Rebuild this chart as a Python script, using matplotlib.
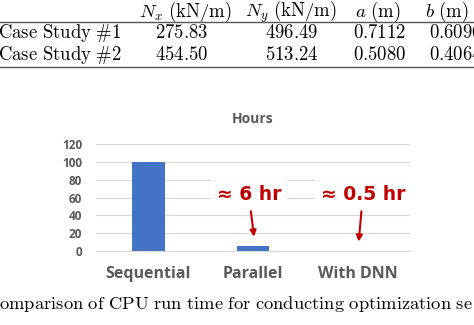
import matplotlib
matplotlib.use("Agg")
import matplotlib.pyplot as plt

plt.rcParams['mathtext.fontset'] = 'cm'

# table cut from the paper above the chart
col_heads = [r"$N_x\ \mathrm{(kN/m)}$", r"$N_y\ \mathrm{(kN/m)}$", r"$a\ \mathrm{(m)}$", r"$b\ \mathrm{(m)}$"]
row_names = ["Case Study #1", "Case Study #2"]
table_vals = [["275.83", "496.49", "0.7112", "0.6096"],
              ["454.50", "513.24", "0.5080", "0.4064"]]

# chart data
categories = ["Sequential", "Parallel", "With DNN"]
hours = [100, 6, 0.5]
notes = [None, "≈ 6 hr", "≈ 0.5 hr"]
yticks = [0, 20, 40, 60, 80, 100, 120]

caption = "Comparison of CPU run time for conducting optimization se"

W, H = 474, 325
fig = plt.figure(figsize=(W / 100, H / 100), dpi=100)


def px(x, y):
    return x / W, 1 - y / H


def roman(s):
    return r"$\mathrm{" + s.replace(" ", r"\ ").replace("#", r"\#") + "}$"


# --- table ---
fs = 13.5
head_x = [185, 291, 378, 447]
val_x = [182, 292, 380, 456]
row_y = [33, 55]
for hx, h in zip(head_x, col_heads):
    fig.text(*px(hx, 12), h, ha='center', va='center', fontsize=fs)
for ry, name, vals in zip(row_y, row_names, table_vals):
    fig.text(*px(-2, ry), roman(name), ha='left', va='center', fontsize=fs)
    for vx, v in zip(val_x, vals):
        fig.text(*px(vx, ry), roman(v), ha='center', va='center', fontsize=fs)
for ly in (21.5, 66.5):
    fig.add_artist(plt.Line2D([0, 1], [1 - ly / H] * 2, color='#555555', lw=1.0,
                              transform=fig.transFigure))

# --- bar chart ---
grey = '#595959'
red = '#C00000'
ax = fig.add_axes([96 / W, 1 - 251 / H, (410 - 96) / W, (251 - 144) / H])
ax.bar(range(len(categories)), hours, width=0.31, color='#4472C4', zorder=2)
ax.set_xlim(-0.5, len(categories) - 0.5)
ax.set_ylim(0, 120)
ax.set_yticks(yticks)
ax.grid(axis='y', color='#D9D9D9', lw=0.9, zorder=0)
for s in ['top', 'right', 'left']:
    ax.spines[s].set_visible(False)
ax.spines['bottom'].set_color('#D9D9D9')
ax.tick_params(length=0)
ax.tick_params(axis='y', pad=10, labelsize=8.5, labelcolor=grey)
ax.tick_params(axis='x', pad=11, labelsize=11.5, labelcolor=grey)
ax.set_xticks(range(len(categories)))
ax.set_xticklabels(categories, fontweight='bold', family='Open Sans')
for lab in ax.get_yticklabels():
    lab.set_fontweight('bold')
    lab.set_family('Open Sans')
ax.set_title("Hours", fontsize=10, fontweight='bold', color=grey, family='Open Sans', pad=15)

text_dx = [0, -0.04, 0.05]
for i, (h, note) in enumerate(zip(hours, notes)):
    if note is None:
        continue
    ax.annotate(note, xy=(i + 0.01, h + 10), xytext=(i + text_dx[i], 63),
                ha='center', va='center', fontsize=13.5, fontweight='bold', color=red,
                family='DejaVu Sans',
                bbox=dict(boxstyle='square,pad=0.3', fc='white', ec='none'),
                arrowprops=dict(arrowstyle='-|>', color=red, lw=1.5, mutation_scale=9,
                                shrinkA=1, shrinkB=0))

# --- caption (cut off on both sides) ---
fig.text(*px(-14, 304), roman(caption), ha='left', va='center', fontsize=13.3)

fig.savefig("out.png", dpi=100)
